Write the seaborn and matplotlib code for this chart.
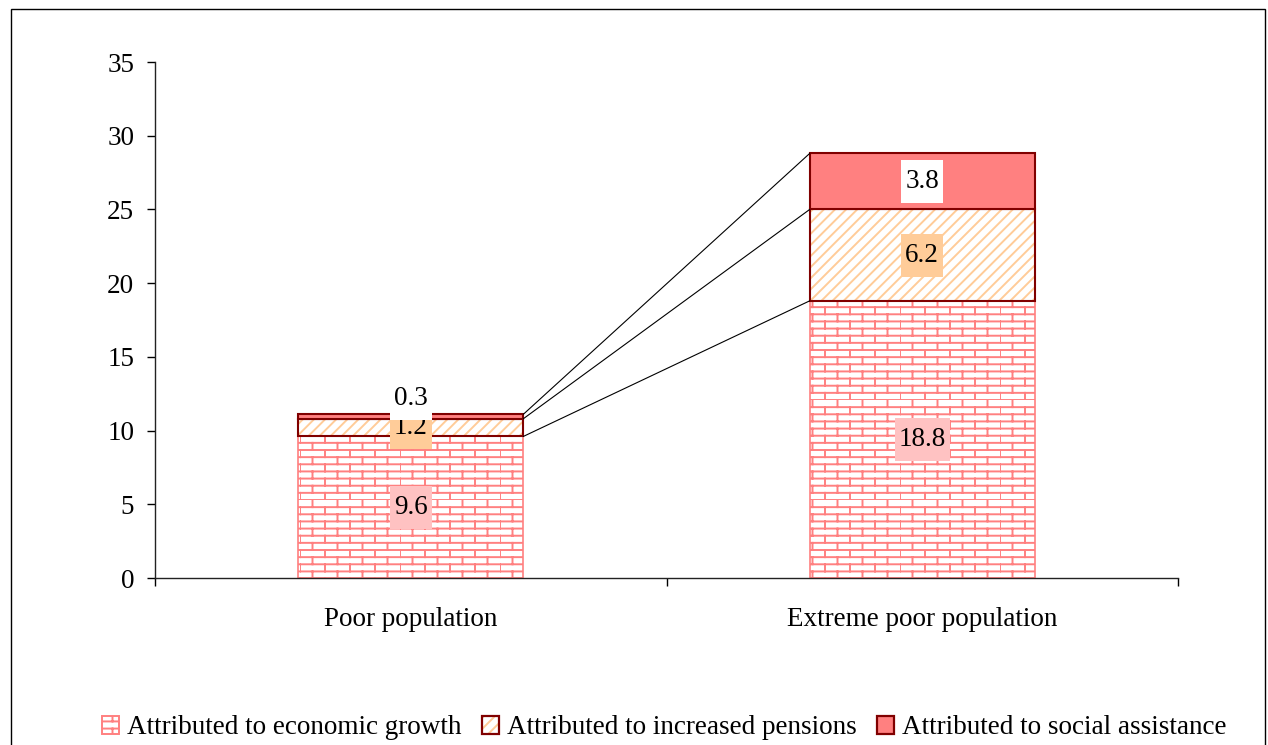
import warnings
warnings.filterwarnings("ignore")
import numpy as np
import pandas as pd
import matplotlib
matplotlib.use("Agg")
import matplotlib.pyplot as plt
from matplotlib import hatch as mhatch
from matplotlib.path import Path
from matplotlib.patches import Patch, Rectangle
import seaborn as sns

# ---------------- data ----------------
categories = ["Poor population", "Extreme poor population"]
growth = [9.6, 18.8]
pensions = [1.2, 6.2]
social = [0.3, 3.8]
series_names = ["Attributed to economic growth",
                "Attributed to increased pensions",
                "Attributed to social assistance"]
yticks = [0, 5, 10, 15, 20, 25, 30, 35]


# ---------------- custom brick hatch ----------------
class BrickHatch(mhatch.HatchPatternBase):
    def __init__(self, hatch, density):
        self.rows = 14 if "b" in hatch else 0
        self.cols = 4
        self.num_vertices = self.rows * (1 + self.cols) * 2

    def set_vertices_and_codes(self, vertices, codes):
        h = 1.0 / self.rows
        k = 0
        for r in range(self.rows):
            y0 = r * h
            vertices[k] = (0, y0)
            vertices[k + 1] = (1, y0)
            k += 2
            off = 0 if r % 2 == 0 else 0.5 / self.cols
            for c in range(self.cols):
                x = c / self.cols + off
                vertices[k] = (x, y0)
                vertices[k + 1] = (x, y0 + h)
                k += 2
        codes[0::2] = Path.MOVETO
        codes[1::2] = Path.LINETO


mhatch._hatch_types.append(BrickHatch)


class TallSquare:
    """Square label box with separate horizontal / vertical padding."""
    def __init__(self, padx=0.15, pady=0.33):
        self.padx, self.pady = padx, pady

    def __call__(self, x0, y0, width, height, mutation_size):
        px = mutation_size * self.padx
        py = mutation_size * self.pady
        x0, y0 = x0 - px, y0 - py
        x1, y1 = x0 + width + 2 * px, y0 + height + 2 * py
        return Path._create_closed([(x0, y0), (x1, y0), (x1, y1), (x0, y1)])


# ---------------- style ----------------
sns.set_style("ticks")
plt.rcParams["font.family"] = ["Liberation Serif", "DejaVu Serif"]
plt.rcParams["font.size"] = 19.5
plt.rcParams["hatch.linewidth"] = 1.4
for k in ["text.color", "axes.labelcolor", "xtick.color", "ytick.color"]:
    plt.rcParams[k] = "black"

PINK = "#FF8080"
ORANGE = "#FFCC99"
DARKRED = "#800000"
W = 0.44
FS = 19.5

fig = plt.figure(figsize=(12.68, 7.45), dpi=100)
ax = fig.add_axes([155 / 1268, 1 - 578 / 745, (1178 - 155) / 1268, (578 - 62) / 745])

df = pd.DataFrame({"category": categories, "growth": growth,
                   "pensions": pensions, "social": social})
bottom_p = np.array(growth)
bottom_s = np.array(growth) + np.array(pensions)
tops = bottom_s + np.array(social)

# growth (brick)
sns.barplot(data=df, x="category", y="growth", color="white", saturation=1,
            width=W, errorbar=None, edgecolor=PINK, linewidth=1.2, hatch="b", ax=ax)
# pensions (diagonal hatch)
sns.barplot(data=df, x="category", y="pensions", bottom=bottom_p, color="white",
            saturation=1, width=W, errorbar=None, edgecolor=ORANGE, linewidth=0,
            hatch="///", ax=ax)
ax.bar(range(len(categories)), pensions, bottom=bottom_p, width=W, fill=False,
       edgecolor=DARKRED, linewidth=1.5)
# social assistance
sns.barplot(data=df, x="category", y="social", bottom=bottom_s, color=PINK,
            saturation=1, width=W, errorbar=None, edgecolor=DARKRED, linewidth=1.5, ax=ax)

# series lines
for lvl1, lvl2 in zip([bottom_p[0], bottom_s[0], tops[0]], [bottom_p[1], bottom_s[1], tops[1]]):
    ax.plot([0 + W / 2, 1 - W / 2], [lvl1, lvl2], color="black", lw=0.8, zorder=1)

# data labels
label_bg = ["#FFC2C2", ORANGE, "white"]
for i in range(len(categories)):
    vals = [growth[i], pensions[i], social[i]]
    bots = [0, bottom_p[i], bottom_s[i]]
    for j, (v, b) in enumerate(zip(vals, bots)):
        y = b + v / 2 if v >= 0.5 else b + v + 1.1
        ax.text(i, y, f"{v:.1f}", ha="center", va="center", fontsize=FS,
                zorder=5 + j,
                bbox=dict(boxstyle=TallSquare(), facecolor=label_bg[j],
                          edgecolor="none"))

# axes
ax.set_xlim(-0.5, 1.5)
ax.set_ylim(0, 35)
ax.set_yticks(yticks)
ax.set_xticks(range(len(categories)))
ax.set_xticklabels(categories)
ax.set_xticks([-0.5, 0.5, 1.5], minor=True)
ax.tick_params(axis="x", which="major", length=0, pad=21, labelsize=FS)
ax.tick_params(axis="x", which="minor", length=6, width=1, direction="out", color="black")
ax.tick_params(axis="y", length=6, width=1, pad=9, color="black", labelsize=FS)
ax.set_xlabel("")
ax.set_ylabel("")
for s in ["top", "right"]:
    ax.spines[s].set_visible(False)
for s in ["left", "bottom"]:
    ax.spines[s].set_color("#222222")
    ax.spines[s].set_linewidth(1)

# legend
h_growth = Patch(facecolor="white", edgecolor=PINK, hatch="b", linewidth=1.4)
h_pens = (Patch(facecolor="white", edgecolor=ORANGE, hatch="///", linewidth=0),
          Patch(facecolor="none", edgecolor=DARKRED, linewidth=1.6))
h_soc = Patch(facecolor=PINK, edgecolor=DARKRED, linewidth=1.6)
fig.legend([h_growth, h_pens, h_soc], series_names, loc="center",
           bbox_to_anchor=(0.524, 1 - 728 / 745), ncol=3, frameon=False,
           handlelength=0.62, handleheight=0.62, handletextpad=0.3,
           columnspacing=0.75, borderaxespad=0, fontsize=FS)

# figure frame
fig.patches.append(Rectangle((11 / 1268, -0.02), (1265 - 11) / 1268, 1.02 - 9 / 745,
                             transform=fig.transFigure, fill=False,
                             edgecolor="black", linewidth=1.0))

fig.savefig("out.png", dpi=100)
